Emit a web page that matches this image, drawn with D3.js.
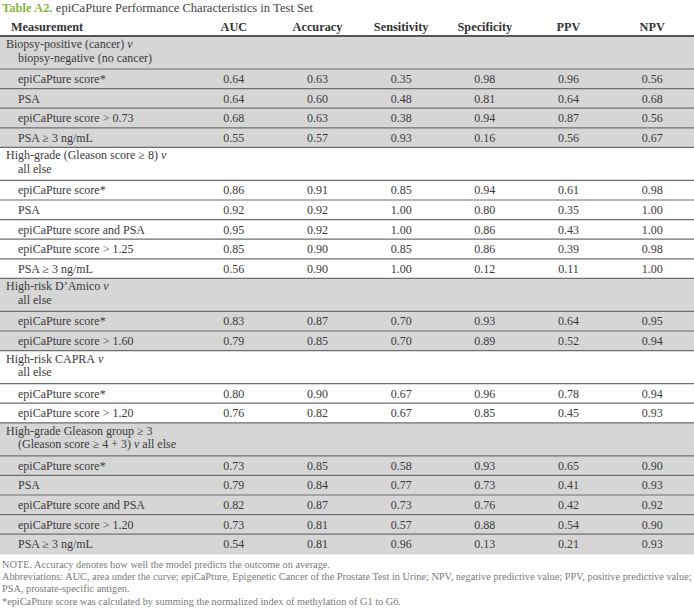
<!DOCTYPE html>
<html><head><meta charset="utf-8">
<script src="https://cdn.jsdelivr.net/npm/d3@7"></script>
<style>
html,body{margin:0;padding:0;background:#fff;}
svg{display:block;}
</style></head>
<body>
<svg id="chart" width="694" height="611"></svg>
<script>
const titleLabel = "Table A2.";
const titleText = " epiCaPture Performance Characteristics in Test Set";
const headers = ["Measurement","AUC","Accuracy","Sensitivity","Specificity","PPV","NPV"];
const metrics = ["AUC","Accuracy","Sensitivity","Specificity","PPV","NPV"];

const groupLabels = [
  ["Biopsy-positive (cancer) v","biopsy-negative (no cancer)"],
  ["High-grade (Gleason score ≥ 8) v","all else"],
  ["High-risk D’Amico v","all else"],
  ["High-risk CAPRA v","all else"],
  ["High-grade Gleason group ≥ 3","(Gleason score ≥ 4 + 3) v all else"]
];
const groupShaded = [true,false,true,false,true];

const rowLabels = [
  ["epiCaPture score*","PSA","epiCaPture score > 0.73","PSA ≥ 3 ng/mL"],
  ["epiCaPture score*","PSA","epiCaPture score and PSA","epiCaPture score > 1.25","PSA ≥ 3 ng/mL"],
  ["epiCaPture score*","epiCaPture score > 1.60"],
  ["epiCaPture score*","epiCaPture score > 1.20"],
  ["epiCaPture score*","PSA","epiCaPture score and PSA","epiCaPture score > 1.20","PSA ≥ 3 ng/mL"]
];

const aucValues = [[0.64,0.64,0.68,0.55],[0.86,0.92,0.95,0.85,0.56],[0.83,0.79],[0.80,0.76],[0.73,0.79,0.82,0.73,0.54]];
const accuracyValues = [[0.63,0.60,0.63,0.57],[0.91,0.92,0.92,0.90,0.90],[0.87,0.85],[0.90,0.82],[0.85,0.84,0.87,0.81,0.81]];
const sensitivityValues = [[0.35,0.48,0.38,0.93],[0.85,1.00,1.00,0.85,1.00],[0.70,0.70],[0.67,0.67],[0.58,0.77,0.73,0.57,0.96]];
const specificityValues = [[0.98,0.81,0.94,0.16],[0.94,0.80,0.86,0.86,0.12],[0.93,0.89],[0.96,0.85],[0.93,0.73,0.76,0.88,0.13]];
const ppvValues = [[0.96,0.64,0.87,0.56],[0.61,0.35,0.43,0.39,0.11],[0.64,0.52],[0.78,0.45],[0.65,0.41,0.42,0.54,0.21]];
const npvValues = [[0.56,0.68,0.56,0.67],[0.98,1.00,1.00,0.98,1.00],[0.95,0.94],[0.94,0.93],[0.90,0.93,0.92,0.90,0.93]];

const notes = [
  "NOTE. Accuracy denotes how well the model predicts the outcome on average.",
  "Abbreviations: AUC, area under the curve; epiCaPture, Epigenetic Cancer of the Prostate Test in Urine; NPV, negative predictive value; PPV, positive predictive value;",
  "PSA, prostate-specific antigen.",
  "*epiCaPture score was calculated by summing the normalized index of methylation of G1 to G6."
];

const valueSets = [aucValues, accuracyValues, sensitivityValues, specificityValues, ppvValues, npvValues];

const W = 694;
const FONT = "'Liberation Serif','DejaVu Serif',serif";
const svg = d3.select("#chart").style("font-family", FONT);
const fmt = d3.format(".2f");

// column scale
const x = d3.scaleBand().domain(metrics).range([192, 694]);
const cx = m => x(m) + x.bandwidth()/2;

// vertical layout
const headerTop = 17, headerH = 19, groupH = 33, rowH = 19.6;
let items = [];
let y = headerTop + headerH;
groupLabels.forEach((g, gi) => {
  items.push({type:"group", gi, y0:y, h:groupH});
  y += groupH;
  rowLabels[gi].forEach((r, ri) => {
    items.push({type:"row", gi, ri, y0:y, h:rowH});
    y += rowH;
  });
});
const tableBottom = y;

// title
const title = svg.append("text").attr("x", 2).attr("y", 12).attr("font-size", 12.6);
title.append("tspan").attr("fill", "#86b941").attr("font-weight", "bold").text(titleLabel);
title.append("tspan").attr("fill", "#444").text(titleText);

// shading
svg.append("g").selectAll("rect").data(items.filter(d => groupShaded[d.gi])).join("rect")
  .attr("x", 0).attr("width", W).attr("y", d => d.y0).attr("height", d => d.h)
  .attr("fill", "#d6d6d6");

// header
const hdr = svg.append("g").attr("font-weight", "bold").attr("font-size", 12.3).attr("fill", "#333");
hdr.append("text").attr("x", 11).attr("y", headerTop + headerH/2 + 4.5).text(headers[0]);
hdr.selectAll("text.m").data(metrics).join("text").attr("class","m")
  .attr("x", d => cx(d)).attr("y", headerTop + headerH/2 + 4.5).attr("text-anchor","middle").text(d => d);

// lines
const lines = svg.append("g");
lines.append("line").attr("x1",0).attr("x2",W).attr("y1",headerTop+headerH).attr("y2",headerTop+headerH)
  .attr("stroke","#555").attr("stroke-width",2);
items.slice(1).forEach(d => {
  lines.append("line").attr("x1",0).attr("x2",W).attr("y1",d.y0).attr("y2",d.y0)
    .attr("stroke", "#6e6e6e").attr("stroke-width",1.2);
});
lines.append("line").attr("x1",0).attr("x2",W).attr("y1",tableBottom).attr("y2",tableBottom)
  .attr("stroke","#bbb").attr("stroke-width",0.5);

// group labels
const body = svg.append("g").attr("font-size", 12).attr("fill", "#3a3a3a");
items.filter(d => d.type === "group").forEach(d => {
  groupLabels[d.gi].forEach((line, li) => {
    const t = body.append("text").attr("x", li === 0 ? 6 : 18).attr("y", d.y0 + 12 + li*13.5);
    const words = line.split(" ");
    words.forEach((w, wi) => {
      t.append("tspan").attr("font-style", w === "v" ? "italic" : null)
        .text((wi > 0 ? " " : "") + w);
    });
  });
});

// row labels & values
items.filter(d => d.type === "row").forEach(d => {
  const base = d.y0 + d.h/2 + 4.2;
  body.append("text").attr("x", 18).attr("y", base).text(rowLabels[d.gi][d.ri]);
  body.append("g").selectAll("text").data(metrics).join("text")
    .attr("x", m => cx(m)).attr("y", base).attr("text-anchor","middle")
    .text((m, mi) => fmt(valueSets[mi][d.gi][d.ri]));
});

// notes
svg.append("g").attr("font-size", 10.3).attr("fill", "#7a7a7a")
  .selectAll("text").data(notes).join("text")
  .attr("x", 2).attr("y", (d,i) => tableBottom + 14 + i*12.3)
  .text(d => d);
</script>
</body></html>
